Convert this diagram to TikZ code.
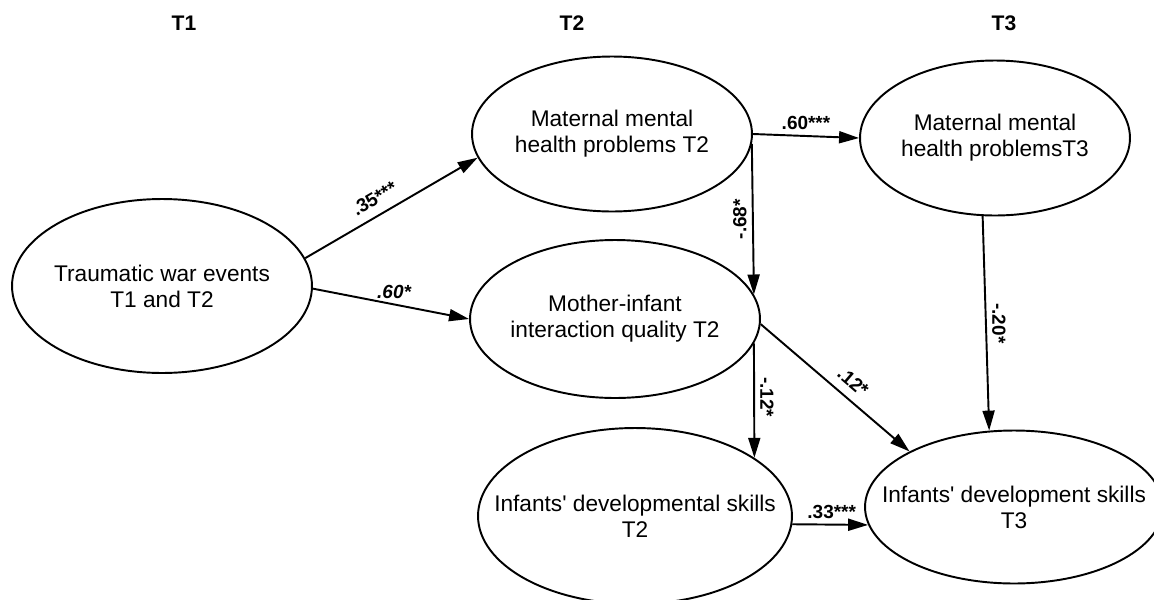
\documentclass[tikz,border=0pt]{standalone}
\usepackage{fontspec}
\setmainfont{Liberation Sans}[Ligatures=TeXOff]
\usetikzlibrary{shapes.geometric,arrows.meta}

\tikzset{
    construct/.style={draw, ellipse, line width=1.1pt, inner sep=0pt},
    varname/.style={align=center, inner sep=0pt, font=\fontsize{12.9}{14.8}\selectfont},
    effect/.style={line width=1.1pt, -{Triangle[length=0.4cm,width=0.24cm]}},
    coef/.style={inner sep=3pt, font=\bfseries\fontsize{10.8}{12}\selectfont},
    wave/.style={font=\bfseries\fontsize{12}{14}\selectfont}
}

\begin{document}
\begin{tikzpicture}[x=0.02cm, y=-0.02cm]
    \useasboundingbox (0,0) rectangle (1154,599);

    % Time points
    \foreach \t/\x in {1/184,2/572,3/1004} {
        \node[wave] (T\t) at (\x,23) {T\t};
    }

    % Latent variables
    \node[construct, minimum width=6cm, minimum height=3.48cm] (trauma) at (162,286) {};
    \node[varname] (trauma-txt) at (trauma) {Traumatic war events\\T1 and T2};

    \node[construct, minimum width=5.6cm, minimum height=3.1cm] (mhT2) at (612,134) {};
    \node[varname] (mhT2-txt) at (mhT2) {Maternal mental\\health problems T2};

    \node[construct, minimum width=5.4cm, minimum height=3.1cm] (mhT3) at (995,138) {};
    \node[varname] (mhT3-txt) at (mhT3) {Maternal mental\\health problemsT3};

    \node[construct, minimum width=5.8cm, minimum height=3.16cm] (mii) at (615,319) {};
    \node[varname] (mii-txt) at (mii) {Mother-infant\\interaction quality T2};

    \node[construct, minimum width=6.28cm, minimum height=3.52cm] (devT2) at (635,516) {};
    \node[varname] (devT2-txt) at (devT2) {Infants' developmental skills\\T2};

    \node[construct, minimum width=5.96cm, minimum height=3.06cm] (devT3) at (1014,507) {};
    \node[varname] (devT3-txt) at (devT3) {Infants' development skills\\T3};

    % Paths
    \draw[effect] (trauma.11) -- node[coef, sloped, above=2pt, pos=.45] (c1) {.35***} (mhT2.190);
    \draw[effect] (trauma.-1) -- node[coef, above, pos=.52] (c2) {\itshape .60*} (mii.180);
    \draw[effect] (mhT2.east) -- node[coef, above] (c3) {.60***} (mhT3.west);
    \draw[effect] (mhT2.-4) -- node[coef, rotate=90, anchor=south, pos=.5] (c4) {-.68*} (mii.10.7);
    \draw[effect] (mii.-10) -- node[coef, rotate=-90, anchor=south, pos=.47] (c5) {-.12*} (devT2.26.2);
    \draw[effect] (mii.-2) -- node[coef, sloped, above=2pt, pos=.55] (c6) {.12*} (devT3.152);
    \draw[effect] (mhT3.261) -- node[coef, rotate=-90, anchor=south, pos=.5] (c7) {-.20*} (devT3.108.7);
    \draw[effect] (devT2.-3) -- node[coef, above, pos=.52] (c8) {.33***} (devT3.187);

\end{tikzpicture}
\end{document}
